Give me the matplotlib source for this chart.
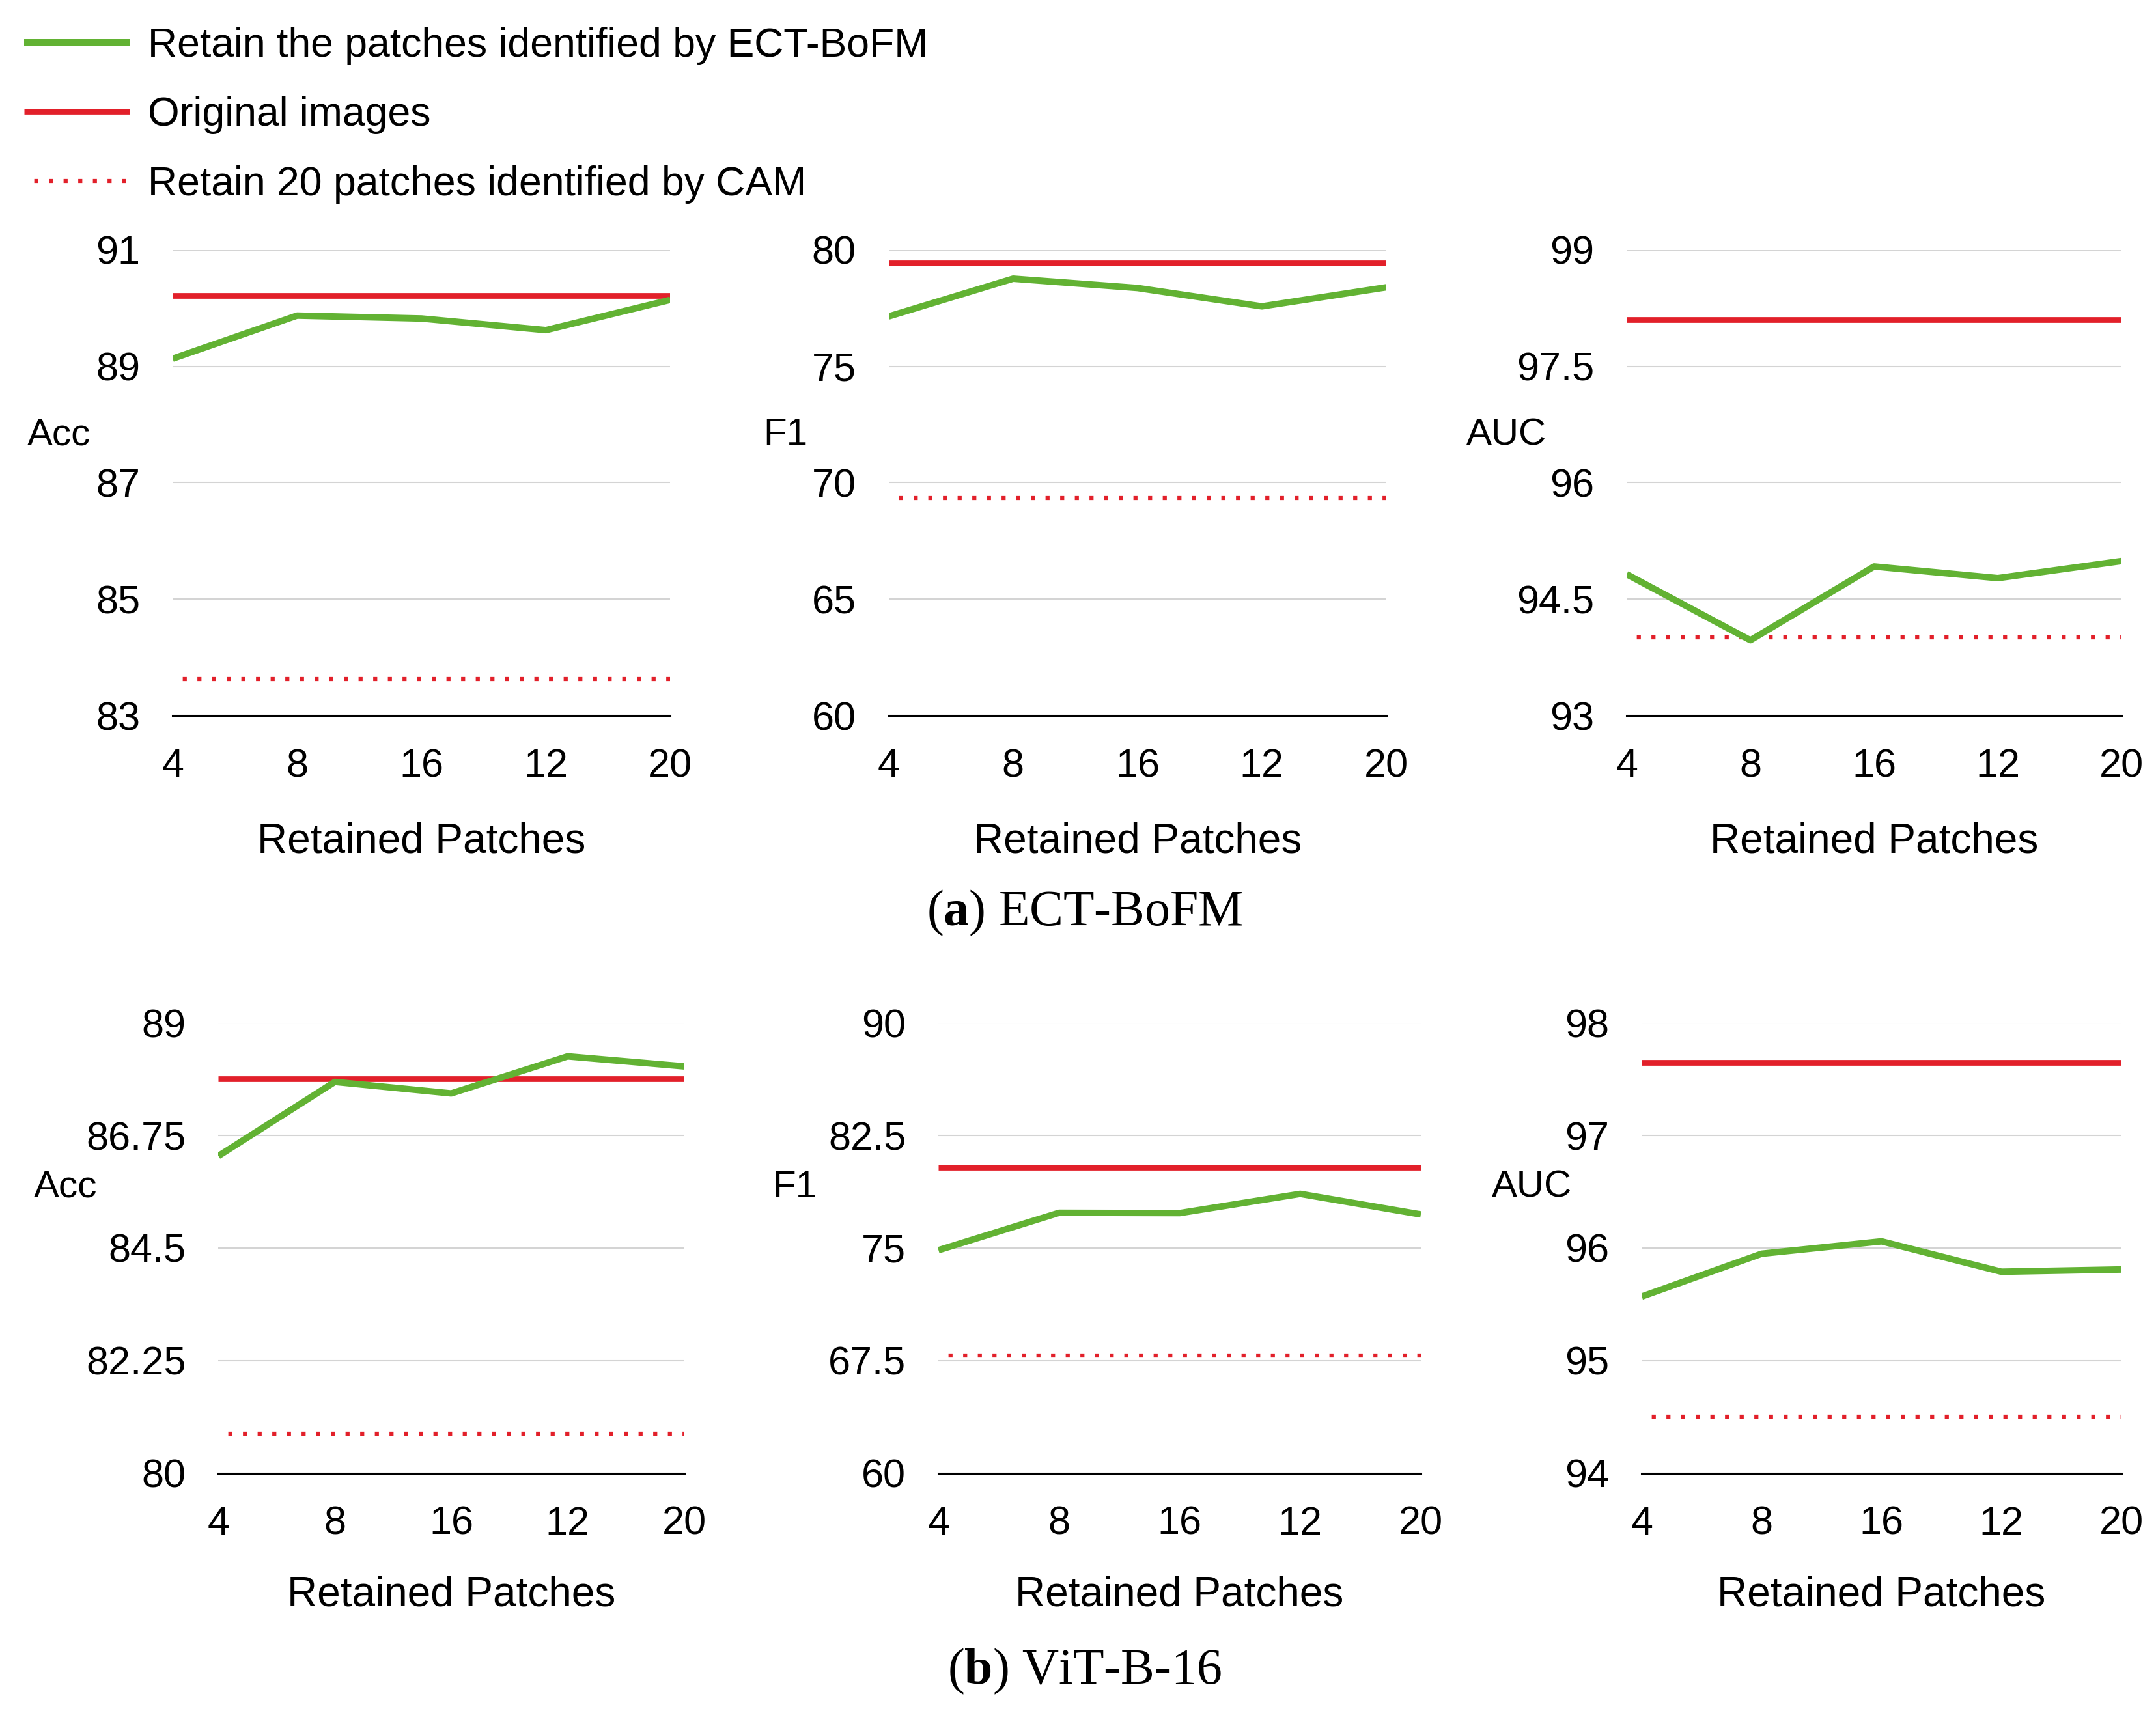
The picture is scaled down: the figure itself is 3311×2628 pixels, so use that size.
import matplotlib
matplotlib.use("Agg")
import matplotlib.pyplot as plt
import numpy as np

plt.rcParams['font.family'] = ['Liberation Sans', 'DejaVu Sans']
plt.rcParams['mathtext.fontset'] = 'custom'
plt.rcParams['mathtext.rm'] = 'Liberation Serif'
plt.rcParams['mathtext.bf'] = 'Liberation Serif:bold'

# data
patches = ['4', '8', '16', '12', '20']

# (a) ECT-BoFM
ect_acc = [89.13, 89.87, 89.82, 89.62, 90.14]
ect_f1 = [77.14, 78.76, 78.36, 77.57, 78.39]
ect_auc = [94.82, 93.97, 94.92, 94.77, 94.99]
ect_orig = [90.21, 79.44, 98.10]
ect_cam = [83.63, 69.33, 94.01]

# (b) ViT-B-16
vit_acc = [86.34, 87.82, 87.59, 88.33, 88.13]
vit_f1 = [74.86, 77.35, 77.33, 78.61, 77.24]
vit_auc = [95.57, 95.95, 96.06, 95.79, 95.81]
vit_orig = [87.88, 80.37, 97.65]
vit_cam = [80.79, 67.84, 94.50]

metrics = ['Acc', 'F1', 'AUC']
ect_ticks = [[83, 85, 87, 89, 91], [60, 65, 70, 75, 80], [93, 94.5, 96, 97.5, 99]]
vit_ticks = [[80, 82.25, 84.5, 86.75, 89], [60, 67.5, 75, 82.5, 90], [94, 95, 96, 97, 98]]

green = '#62b233'
red = '#e2202a'

fig = plt.figure(figsize=(33.11, 26.28), dpi=100)

# axes positions [left, bottom, width, height]
top_pos = [[0.0801, 0.5818, 0.2308, 0.2722],
           [0.4122, 0.5818, 0.2308, 0.2722],
           [0.7545, 0.5818, 0.2295, 0.2722]]
bot_pos = [[0.1013, 0.1389, 0.2160, 0.2633],
           [0.4353, 0.1389, 0.2237, 0.2633],
           [0.7615, 0.1389, 0.2224, 0.2633]]
top_ylab_x = [-0.228, -0.208, -0.243]
bot_ylab_x = [-0.329, -0.298, -0.230]


def draw_panel(pos, series, orig, cam, ticks, name, ylab_x, ylab_y):
    ax = fig.add_axes(pos)
    x = np.arange(len(patches))
    ax.plot(x, [orig] * len(x), color=red, lw=6.3, solid_capstyle='butt',
            label='Original images', zorder=3)
    ax.plot(x, series, color=green, lw=7.2, solid_capstyle='butt',
            label='Retain the patches identified by ECT-BoFM', zorder=4)
    ax.plot(x, [cam] * len(x), color=red, lw=4.5, linestyle=(-2.5, (1, 2.6)),
            label='Retain 20 patches identified by CAM', zorder=3)
    ax.set_xlim(0, len(patches) - 1)
    ax.set_ylim(ticks[0], ticks[-1])
    ax.set_yticks(ticks)
    ax.set_yticklabels(['{:g}'.format(t) for t in ticks])
    ax.set_xticks(x)
    ax.set_xticklabels(patches)
    for s in ['top', 'right', 'left']:
        ax.spines[s].set_visible(False)
    ax.spines['bottom'].set_linewidth(2.2)
    ax.spines['bottom'].set_color('black')
    ax.tick_params(axis='both', length=0, labelsize=44)
    ax.tick_params(axis='x', pad=36)
    ax.tick_params(axis='y', pad=36)
    ax.yaxis.grid(True, color='#d4d4d4', lw=1.5)
    ax.set_axisbelow(True)
    ax.set_xlabel('Retained Patches', fontsize=46)
    ax.xaxis.set_label_coords(0.5, -0.27)
    ax.xaxis.label.set_va('center')
    ax.set_ylabel(name, fontsize=42, rotation=0, ha='center', va='center')
    ax.yaxis.set_label_coords(ylab_x, ylab_y)
    return ax


ect_series = [ect_acc, ect_f1, ect_auc]
vit_series = [vit_acc, vit_f1, vit_auc]

axes = []
for i in range(3):
    axes.append(draw_panel(top_pos[i], ect_series[i], ect_orig[i], ect_cam[i],
                           ect_ticks[i], metrics[i], top_ylab_x[i], 0.602))
for i in range(3):
    axes.append(draw_panel(bot_pos[i], vit_series[i], vit_orig[i], vit_cam[i],
                           vit_ticks[i], metrics[i], bot_ylab_x[i], 0.635))

handles, labels = axes[0].get_legend_handles_labels()
order = [1, 0, 2]
fig.legend([handles[k] for k in order], [labels[k] for k in order],
           loc='upper left', bbox_to_anchor=(0.0035, 0.994), frameon=False,
           fontsize=45, handlelength=2.6, handletextpad=0.45, labelspacing=0.76,
           borderaxespad=0)

fig.text(0.503, 0.4663, r'($\mathbf{a}$) ECT-BoFM', family='Liberation Serif',
         fontsize=56, ha='center', va='center')
fig.text(0.503, 0.0232, r'($\mathbf{b}$) ViT-B-16', family='Liberation Serif',
         fontsize=56, ha='center', va='center')

fig.savefig('out.png', dpi=100, facecolor='white')
